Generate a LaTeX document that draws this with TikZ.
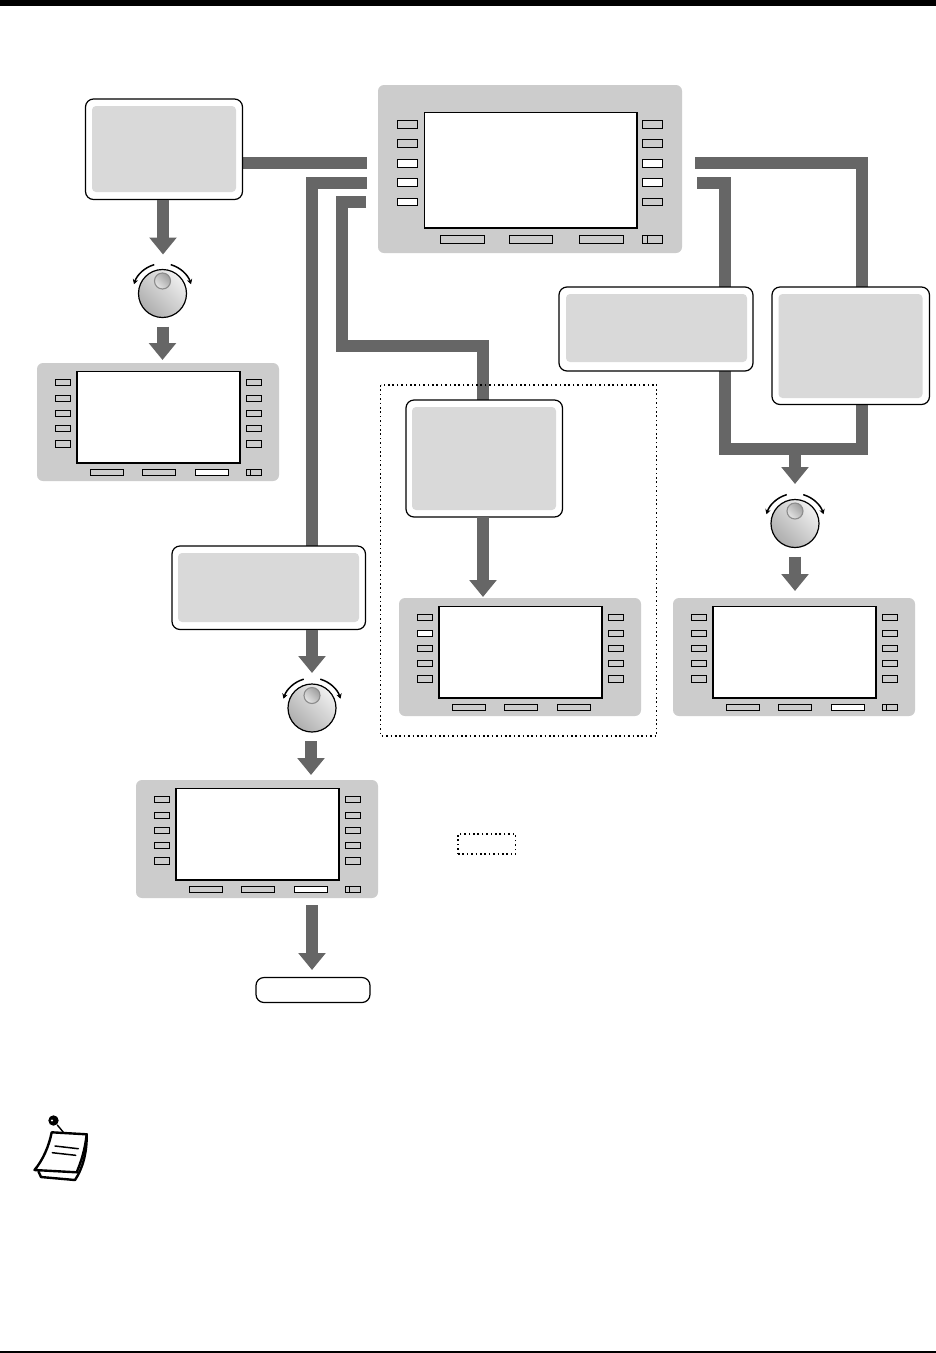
\documentclass[tikz,border=0pt]{standalone}
\usetikzlibrary{arrows.meta,backgrounds,calc}
\definecolor{panelgray}{HTML}{CCCCCC}
\definecolor{calloutgray}{HTML}{D9D9D9}
\definecolor{flowgray}{HTML}{666666}
\tikzset{
  blk/.style={rectangle,inner sep=0pt,outer sep=0pt},
  panelbody/.style={blk,fill=panelgray,rounded corners=6pt},
  screen/.style={blk,fill=white,draw=black,line width=1.9pt},
  callout/.style={blk,fill=white,draw=black,line width=1.2pt,rounded corners=8pt},
  calloutin/.style={blk,fill=calloutgray,rounded corners=4pt},
  flow/.style={draw=flowgray,line width=12pt,line join=miter},
  flowarrow/.style={flow,-{Triangle[width=26.5pt,length=17pt]}},
  dotbox/.style={draw=black,line width=1.1pt,dash pattern=on 1.6pt off 2.8pt},
  key/.style={draw=black,line width=1pt,fill=panelgray},
  keyw/.style={draw=black,line width=1pt,fill=white},
  dial/.style={circle,inner sep=0pt,outer sep=0pt,minimum size=48pt,draw=black,line width=1.2pt,
    shading=axis,left color=black!6,right color=black!32,shading angle=-45},
  knob/.style={circle,inner sep=0pt,outer sep=0pt,minimum size=16pt,draw=black!45,line width=1.1pt,
    shading=axis,left color=black!38,right color=black!10,shading angle=-45},
  turn/.style={line width=1.5pt,draw=black,-{Stealth[length=5pt,width=5.5pt]}},
  pen/.style={draw=black,line width=2.4pt,line join=round,line cap=round}
}
% \boxat{name}{x1}{y1}{x2}{y2}{style}
\newcommand\boxat[6]{%
  \pgfmathsetmacro\bcx{(#2+#4)/2}\pgfmathsetmacro\bcy{(#3+#5)/2}%
  \pgfmathsetmacro\bw{#4-#2}\pgfmathsetmacro\bh{#5-#3}%
  \node[#6,minimum width=\bw pt,minimum height=\bh pt] (#1) at (\bcx,\bcy) {};}
\newcommand\calloutbox[9]{%
  \boxat{#1}{#2}{#3}{#4}{#5}{callout}
  \boxat{#1in}{#6}{#7}{#8}{#9}{calloutin}}
% \keyat{x}{y}{w}{h}{style}
\newcommand\keyat[5]{\draw[#5] (#1,#2) rectangle ++(#3,#4);}
% \smallpanel{name}{x}{y}{left2 style}{soft3 style}{with index key 1/0}
\newcommand\smallpanel[6]{%
  \begin{scope}[shift={(#2,#3)}]
    \boxat{#1}{0}{0}{242}{118}{panelbody}
    \boxat{#1scr}{40.2}{8.5}{202.8}{100}{screen}
    \foreach \ky/\kh [count=\ki] in {16/6,32/6,47/6,62/6,77/7}{
      \ifnum\ki=2 \keyat{18.2}{\ky}{15.5}{\kh}{#4}\else \keyat{18.2}{\ky}{15.5}{\kh}{key}\fi
      \keyat{209.2}{\ky}{15.5}{\kh}{key}
    }
    \keyat{53.2}{106}{33}{6}{key}
    \keyat{105.2}{106}{33}{6}{key}
    \keyat{158.2}{106}{33}{6}{#5}
    \ifnum#6=1
      \keyat{209.2}{106}{15.5}{6}{key}
      \draw[line width=1pt] (213.2,106) -- (213.2,112);
    \fi
  \end{scope}}
\newcommand\dialat[3]{%
  \node[dial] (#1) at (#2,#3) {};
  \node[knob] (#1k) at ($(#1)+(0,-12.5)$) {};
  \draw[turn] ($(#1)+(106:30pt)$) arc[start angle=106,end angle=162,radius=30pt];
  \draw[turn] ($(#1)+(74:30pt)$) arc[start angle=74,end angle=18,radius=30pt];}
\begin{document}
\begin{tikzpicture}[x=1pt,y=-1pt]
\useasboundingbox (0,0) rectangle (936,1353);
\boxat{topband}{0}{0}{936}{5.7}{blk,fill=black}
\boxat{bottomrule}{0}{1351.4}{936}{1353}{blk,fill=black}

% main panel
\boxat{main}{378}{85}{682}{253}{panelbody}
\boxat{mainscr}{424.5}{112.5}{637}{228}{screen}
\foreach \ky/\kh/\lst/\rst in {120.5/7.5/key/key,139.5/7.5/key/key,159.5/7.5/keyw/keyw,178.5/7.5/keyw/keyw,198.5/6.5/keyw/key}{
  \keyat{397.5}{\ky}{20}{\kh}{\lst}
  \keyat{642.5}{\ky}{20}{\kh}{\rst}
}
\keyat{440.5}{235.5}{44}{7.5}{key}
\keyat{509.5}{235.5}{43}{7.5}{key}
\keyat{579.5}{235.5}{44}{7.5}{key}
\keyat{642.5}{235.5}{20}{7.5}{key}
\draw[line width=1pt] (647.5,235.5) -- (647.5,243);

% small panels
\smallpanel{panelA}{37}{363}{key}{keyw}{1}
\smallpanel{panelB}{136}{780}{key}{keyw}{1}
\smallpanel{panelC}{399}{598}{keyw}{key}{0}
\smallpanel{panelD}{673}{598}{key}{keyw}{1}

% callouts
\calloutbox{boxA}{85.5}{99}{242.5}{199.5}{92}{106}{236}{192}
\calloutbox{boxB}{559}{287}{753}{371}{566}{294}{747}{362}
\calloutbox{boxC}{772}{287}{929.5}{404.5}{778.5}{294}{922.5}{398}
\calloutbox{boxD}{406}{400}{562.5}{517}{412}{407}{556}{510}
\calloutbox{boxE}{172}{546}{365.5}{629.5}{178}{553}{359}{622}
\boxat{boxF}{256}{977.5}{370}{1002.5}{callout}

% dials
\dialat{dialA}{162.5}{293.5}
\dialat{dialB}{312}{708}
\dialat{dialC}{795}{523.5}

% free ends of the connectors
\coordinate (mainL1) at (367,163);
\coordinate (mainL2) at (367,183);
\coordinate (mainL3) at (366,202);
\coordinate (mainR1) at (695,163);
\coordinate (mainR2) at (697,183);
\coordinate (joinB) at (725,449);
\coordinate (joinC) at (862,449);
\coordinate (rowD) at (483,346);

\begin{scope}[on background layer]
  \fill[white] (0,0) rectangle (936,1353);
  \draw[flow] (boxA.east |- mainL1) -- (mainL1);
  \draw[flow] (mainL2) -| (dialB |- boxE.north);
  \draw[flow] (mainL3) -| (342,346) -- (rowD) -- (rowD |- boxD.north);
  \draw[flow] (mainR1) -| (joinC |- boxC.north);
  \draw[flow] (mainR2) -| (joinB |- boxB.north);
  \draw[flow] (joinB |- boxB.south) -- (joinB) -- (joinC) -- (joinC |- boxC.south);
  \draw[dotbox] (380.7,385) rectangle (656.7,736);
\end{scope}

\draw[flowarrow] ($(dialA |- boxA.south)+(0.5,0)$) -- ($(dialA.north)+(0.5,-15)$);
\draw[flowarrow] ($(dialA.south)+(0,9)$) -- ($(dialA |- panelA.north)+(0,-3)$);
\draw[flowarrow] (dialB |- boxE.south) -- ($(dialB.north)+(0,-11)$);
\draw[flowarrow] ($(dialB.south)+(-1,9)$) -- ($(dialB |- panelB.north)+(-1,-5)$);
\draw[flowarrow] (rowD |- boxD.south) -- ($(rowD |- panelC.north)+(0,-1)$);
\draw[flowarrow] (dialC |- joinC) -- ($(dialC.north)+(0,-15.5)$);
\draw[flowarrow] ($(dialC.south)+(0,9)$) -- ($(dialC |- panelD.north)+(0,-7)$);
\draw[flowarrow] ($(panelB.south)+(55,7)$) -- ($(boxF.north)+(-1,-7.5)$);

% legend box
\boxat{legend}{458}{834}{515.7}{854}{blk,dotbox}

% note icon
\fill[black] (53.5,1120.5) circle (5.2pt);
\fill[white] (52,1120.5) circle (1.1pt);
\draw[pen,line width=1.4pt] (57.3,1125) -- (69.3,1139.3);
\draw[pen,fill=white] (51.7,1132.3) -- (86.7,1134.3) .. controls (85,1150) and (81,1162) .. (76.7,1172.3) -- (34.5,1170) .. controls (43,1160) and (49,1146) .. (51.7,1132.3) -- cycle;
\draw[pen] (86.7,1134.3) .. controls (87,1152) and (83,1168) .. (75,1180) -- (41,1177) -- (38.5,1171.5);
\draw[pen,line width=1.5pt] (55,1146) -- (78.3,1148.7);
\draw[pen,line width=1.5pt] (52.3,1152.7) -- (75.7,1155.3);
\end{tikzpicture}
\end{document}
